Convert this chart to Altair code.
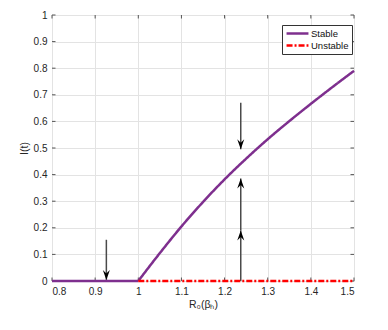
import altair as alt
import pandas as pd

# ---- data ----
stable_flat_r0 = [0.8, 1.0]
stable_flat_i = [0.0, 0.0]
stable_r0 = [1.0, 1.05, 1.10, 1.15, 1.20, 1.25, 1.30, 1.35, 1.40, 1.45, 1.50]
stable_i = [0.0, 0.105, 0.205, 0.297, 0.382, 0.46, 0.533, 0.601, 0.666, 0.729, 0.79]
unstable_r0 = [1.0, 1.5]
unstable_i = [0.0, 0.0]

arrow_x = [0.926, 1.2375, 1.2375, 1.2375]
arrow_from = [0.155, 0.67, 0.0, 0.19]
arrow_to = [0.004, 0.495, 0.19, 0.385]
arrow_dir = ["down", "down", "up", "up"]

x_ticks = [0.8, 0.9, 1.0, 1.1, 1.2, 1.3, 1.4, 1.5]
y_ticks = [0, 0.1, 0.2, 0.3, 0.4, 0.5, 0.6, 0.7, 0.8, 0.9, 1.0]

W, H = 302, 266
PURPLE = "#7E2F8E"
RED = "#FF0000"

rows = []
for k, (r, i) in enumerate(zip(stable_flat_r0, stable_flat_i)):
    rows.append({"series": "Stable", "seg": "a", "R0": r, "I": i, "o": k})
for k, (r, i) in enumerate(zip(stable_r0, stable_i)):
    rows.append({"series": "Stable", "seg": "b", "R0": r, "I": i, "o": k})
for k, (r, i) in enumerate(zip(unstable_r0, unstable_i)):
    rows.append({"series": "Unstable", "seg": "c", "R0": r, "I": i, "o": k})
lines = pd.DataFrame(rows)
arrows = pd.DataFrame({"x": arrow_x, "y0": arrow_from, "y1": arrow_to, "dir": arrow_dir})
xt = pd.DataFrame({"t": x_ticks})
yt = pd.DataFrame({"t": y_ticks})

xs = alt.Scale(domain=[0.8, 1.5], nice=False, zero=False)
ys = alt.Scale(domain=[0, 1], nice=False)

common_axis = dict(format="~g", ticks=False, domain=False, grid=True, gridColor="#e3e3e3",
                   labelPadding=5, labelFontSize=10, labelOverlap=False,
                   titleFontSize=10.5, titleFontWeight="normal",
                   labelColor="#262626", titleColor="#262626")
xaxis = alt.Axis(values=x_ticks, title="R₀(βₕ)", titlePadding=3, **common_axis)
yaxis = alt.Axis(values=y_ticks, title="I(t)", titleX=-28, titleY=H / 2,
                 titleBaseline="middle", titleAlign="center", **common_axis)


def X(f):
    return alt.X(f, scale=xs, axis=xaxis)


def Y(f):
    return alt.Y(f, scale=ys, axis=yaxis)


grid = alt.Chart(yt).mark_rule(opacity=0).encode(x=X("t:Q"), y=Y("t:Q"))

leg = dict(title=None, orient="none", legendX=230, legendY=10,
           fillColor="white", strokeColor="#333333", padding=3,
           symbolType="stroke", symbolSize=480, symbolStrokeWidth=2.5,
           labelFontSize=9.5, labelColor="#111111", rowPadding=1,
           labelOffset=1, clipHeight=11)

line_layer = alt.Chart(lines).mark_line(strokeWidth=2.5, interpolate="monotone").encode(
    x=X("R0:Q"),
    y=Y("I:Q"),
    order="o:Q",
    detail="seg:N",
    color=alt.Color("series:N", scale=alt.Scale(domain=["Stable", "Unstable"], range=[PURPLE, RED]),
                    legend=alt.Legend(**leg)),
    strokeDash=alt.StrokeDash("series:N", scale=alt.Scale(domain=["Stable", "Unstable"],
                                                          range=[[1, 0], [6, 2, 2, 2]]),
                              legend=alt.Legend(**leg)),
)

shafts = alt.Chart(arrows).mark_rule(color="#4a4a4a", strokeWidth=1.5).encode(
    x=X("x:Q"), y=Y("y0:Q"), y2="y1:Q"
)
down_path = "M0,0 L-0.35,-1 L0,-0.65 L0.35,-1 Z"
up_path = "M0,0 L-0.35,1 L0,0.65 L0.35,1 Z"
heads_down = alt.Chart(arrows).transform_filter(alt.datum.dir == "down").mark_point(
    shape=down_path, filled=True, color="black", size=400, opacity=1
).encode(x=X("x:Q"), y=Y("y1:Q"))
heads_up = alt.Chart(arrows).transform_filter(alt.datum.dir == "up").mark_point(
    shape=up_path, filled=True, color="black", size=400, opacity=1
).encode(x=X("x:Q"), y=Y("y1:Q"))

TL = 3.5
tick_style = dict(color="#555555", strokeWidth=1)
tb = alt.Chart(xt).mark_rule(**tick_style).encode(x=X("t:Q"), y=alt.value(H), y2=alt.value(H - TL))
tt = alt.Chart(xt).mark_rule(**tick_style).encode(x=X("t:Q"), y=alt.value(0), y2=alt.value(TL))
tl = alt.Chart(yt).mark_rule(**tick_style).encode(y=Y("t:Q"), x=alt.value(0), x2=alt.value(TL))
tr = alt.Chart(yt).mark_rule(**tick_style).encode(y=Y("t:Q"), x=alt.value(W), x2=alt.value(W - TL))

chart = alt.layer(grid, tb, tt, tl, tr, shafts, heads_down, heads_up, line_layer).properties(
    width=W, height=H,
    autosize=alt.AutoSizeParams(type="none"),
    padding={"left": 44, "top": 7, "right": 26, "bottom": 41},
).configure_view(stroke="#666666", strokeWidth=1.5).configure(
    font="Liberation Sans", background="white"
)

chart.save("out.html", embed_options={"renderer": "svg", "actions": False})
